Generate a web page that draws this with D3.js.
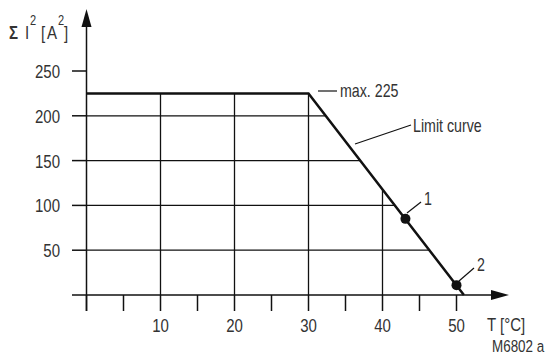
<!DOCTYPE html>
<html><head><meta charset="utf-8">
<script src="https://cdn.jsdelivr.net/npm/d3@7"></script>
<style>
body{margin:0;background:#fff;}
text{font-family:"Liberation Sans",Arial,sans-serif;fill:#333;}
</style></head><body>
<svg id="c" width="547" height="354"></svg>
<script>
const xTicks = [10, 20, 30, 40, 50];
const xMinorTicks = [0, 5, 15, 25, 35, 45];
const yTicks = [50, 100, 150, 200, 250];
const gridX = [10, 20, 30, 40];
const gridY = [50, 100, 150, 200];
const curveT = [0, 30, 51];
const curveV = [225, 225, 0];
const pointsT = [43.1, 50];
const pointsV = [85, 11];
const pointLabels = ["1", "2"];

const svg = d3.select("#c");
const x = d3.scaleLinear().domain([0, 50]).range([86.5, 456.5]);
const y = d3.scaleLinear().domain([0, 250]).range([295, 71]);
const curveAt = d3.scaleLinear().domain(curveT).range(curveV);
const tAt = d3.scaleLinear().domain(curveV.slice(1)).range(curveT.slice(1));
const SX = 0.79;
function txt(px, py, s, size, anchor) {
  return svg.append("text").attr("transform", `translate(${px},${py}) scale(${SX},1)`)
    .attr("font-size", size).attr("text-anchor", anchor || "start").text(s);
}

// grid
const g = svg.append("g").attr("stroke", "#111").attr("stroke-width", 1.3);
gridX.forEach(t => g.append("line").attr("x1", x(t)).attr("x2", x(t)).attr("y1", y(0)).attr("y2", y(curveAt(t))));
gridY.forEach(v => g.append("line").attr("x1", x(0)).attr("x2", x(tAt(v))).attr("y1", y(v)).attr("y2", y(v)));

// axes
const a = svg.append("g").attr("stroke", "#111").attr("stroke-width", 1.5);
a.append("line").attr("x1", x(0)).attr("x2", x(0)).attr("y1", 311).attr("y2", 22);
a.append("line").attr("x1", 72).attr("x2", 496).attr("y1", y(0)).attr("y2", y(0));
svg.append("path").attr("d", `M${x(0)},9 L${x(0)-5},27 L${x(0)+5},27 Z`).attr("fill", "#111");
svg.append("path").attr("d", `M509,${y(0)} L491,${y(0)-5} L491,${y(0)+5} Z`).attr("fill", "#111");
xTicks.concat(xMinorTicks).forEach(t => a.append("line").attr("x1", x(t)).attr("x2", x(t)).attr("y1", y(0)).attr("y2", 311));
yTicks.forEach(v => a.append("line").attr("x1", 72).attr("x2", x(0)).attr("y1", y(v)).attr("y2", y(v)));

// tick labels
xTicks.forEach(t => txt(x(t), 332, t, 19, "middle"));
yTicks.forEach(v => txt(60, y(v) + 7, v, 19, "end"));

// curve
const line = d3.line().x((d, i) => x(curveT[i])).y((d, i) => y(curveV[i]));
svg.append("path").attr("d", line(curveT)).attr("fill", "none").attr("stroke", "#111").attr("stroke-width", 2.5);

// points
pointsT.forEach((t, i) => svg.append("circle").attr("cx", x(t)).attr("cy", y(pointsV[i])).attr("r", 5).attr("fill", "#111"));

// annotations
const ann = svg.append("g").attr("stroke", "#111").attr("stroke-width", 1.2);
ann.append("line").attr("x1", 318).attr("x2", 337).attr("y1", 91).attr("y2", 91);
txt(340, 97, "max. 225", 18);
ann.append("line").attr("x1", 355).attr("x2", 411).attr("y1", 144).attr("y2", 125);
txt(413, 131.5, "Limit curve", 18);
const lblOff = [[407, 213, 421, 202], [459, 281, 474, 268]];
pointLabels.forEach((l, i) => {
  const o = lblOff[i];
  ann.append("line").attr("x1", o[0]).attr("y1", o[1]).attr("x2", o[2]).attr("y2", o[3]);
  txt(o[2] + 3, o[3] + 3, l, 18);
});

// axis titles
txt(9, 39, "Σ", 19).attr("font-weight", "bold");
txt(25, 39, "I", 19);
txt(30, 25, "2", 14);
txt(41, 39, "[", 19);
txt(47, 39, "A", 19);
txt(58, 25, "2", 14);
txt(64, 39, "]", 19);
txt(487, 331, "T  [°C]", 19);
txt(492, 352, "M6802  a", 17);
</script></body></html>
